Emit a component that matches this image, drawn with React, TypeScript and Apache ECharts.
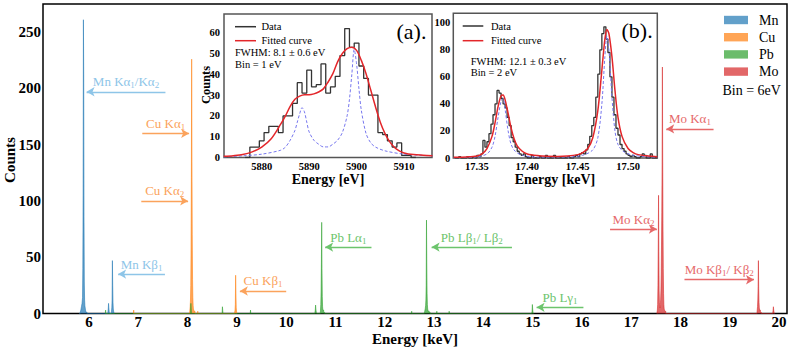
import React, { useEffect, useRef } from 'react';
import * as echarts from 'echarts';

const FONT = "'Liberation Serif', 'Times New Roman', Times, serif";

// ---------- Main spectrum (bin = 6 eV): [bin left edge keV, counts] ----------
const mnSpectrum: number[][] = [
  [5.8, 0], [5.82, 1], [5.834, 3], [5.846, 6], [5.858, 9], [5.868, 14], [5.874, 40], [5.88, 105],
  [5.886, 261], [5.892, 212], [5.898, 86], [5.904, 28], [5.91, 12], [5.916, 7], [5.928, 3], [5.94, 1], [5.96, 0],
  [6.38, 0], [6.39, 4], [6.396, 9], [6.402, 5], [6.408, 2], [6.414, 0],
  [6.45, 0], [6.456, 2], [6.462, 5], [6.468, 12], [6.474, 47], [6.48, 25], [6.486, 10], [6.492, 4], [6.498, 2], [6.51, 0],
];
const cuSpectrum: number[][] = [
  [6.9, 0], [6.906, 3], [6.912, 0],
  [8.04, 0], [8.046, 3], [8.052, 6], [8.058, 12], [8.064, 25], [8.07, 60], [8.076, 121], [8.082, 226],
  [8.088, 135], [8.094, 70], [8.1, 30], [8.106, 14], [8.112, 7], [8.118, 4], [8.13, 2], [8.15, 0],
  [8.2, 0], [8.206, 2], [8.212, 0],
  [8.95, 0], [8.962, 3], [8.968, 8], [8.974, 34], [8.98, 18], [8.986, 5], [8.992, 2], [9.0, 0],
];
const pbSpectrum: number[][] = [
  [6.33, 0], [6.336, 3], [6.342, 0],
  [8.06, 0], [8.066, 9], [8.072, 4], [8.078, 0],
  [8.7, 0], [8.706, 6], [8.712, 3], [8.718, 0],
  [9.27, 0], [9.276, 3], [9.282, 0],
  [10.58, 0], [10.59, 3], [10.596, 7.5], [10.602, 4], [10.61, 1], [10.62, 0],
  [10.69, 0], [10.696, 3], [10.702, 8], [10.708, 20], [10.714, 45], [10.72, 81], [10.726, 40], [10.732, 15],
  [10.738, 6], [10.744, 3], [10.76, 1], [10.78, 0],
  [12.54, 0], [12.546, 2], [12.552, 0],
  [12.8, 0], [12.81, 2], [12.82, 4], [12.828, 7], [12.834, 12], [12.84, 25], [12.846, 83], [12.852, 45],
  [12.858, 18], [12.864, 8], [12.87, 4], [12.88, 2], [12.9, 1], [12.92, 0],
  [13.05, 0], [13.056, 2], [13.062, 0], [13.3, 0], [13.306, 2], [13.312, 0],
  [14.98, 0], [14.988, 2], [14.994, 8], [15.0, 4], [15.006, 1], [15.02, 0],
];
const moSpectrum: number[][] = [
  [17.52, 0], [17.53, 3], [17.536, 8], [17.542, 25], [17.548, 60], [17.554, 105], [17.56, 55], [17.566, 20],
  [17.572, 10], [17.578, 6], [17.584, 5], [17.59, 8], [17.596, 12], [17.602, 20], [17.608, 35], [17.614, 60],
  [17.62, 90], [17.626, 132], [17.632, 219], [17.638, 140], [17.644, 80], [17.65, 40], [17.656, 18],
  [17.662, 8], [17.668, 4], [17.68, 2], [17.7, 0],
  [19.55, 0], [19.556, 3], [19.562, 6], [19.568, 12], [19.574, 24], [19.58, 47], [19.586, 22], [19.592, 10],
  [19.598, 5], [19.604, 3], [19.62, 1], [19.64, 0],
  [19.87, 0], [19.878, 3], [19.884, 6], [19.89, 3], [19.896, 1], [19.91, 0],
];

const elements = ['Mn', 'Cu', 'Pb', 'Mo'];
const elementColors = ['rgba(31,119,180,0.7)', 'rgba(255,127,14,0.7)', 'rgba(44,160,44,0.7)', 'rgba(214,39,40,0.7)'];
const annotationColors: Record<string, string> = { Mn: '#8ec5e8', Cu: '#fba35c', Pb: '#6cc46c', Mo: '#e6696a' };

const mainXTicks = [6, 7, 8, 9, 10, 11, 12, 13, 14, 15, 16, 17, 18, 19, 20];
const mainYTicks = [0, 50, 100, 150, 200, 250];

// annotations: text (with _n subscripts), arrow tail, arrow head (data coords)
const annotations = [
  { el: 'Mn', text: 'Mn Kα_1/Kα_2', tail: [7.55, 197], head: [5.95, 197] },
  { el: 'Mn', text: 'Mn Kβ_1', tail: [7.54, 35], head: [6.59, 35] },
  { el: 'Cu', text: 'Cu Kα_1', tail: [7.08, 160], head: [8.03, 160] },
  { el: 'Cu', text: 'Cu Kα_2', tail: [7.06, 100], head: [8.01, 100] },
  { el: 'Cu', text: 'Cu Kβ_1', tail: [10.0, 20], head: [9.06, 20] },
  { el: 'Pb', text: 'Pb Lα_1', tail: [11.73, 59], head: [10.79, 59] },
  { el: 'Pb', text: 'Pb Lβ_1/ Lβ_2', tail: [14.58, 59], head: [12.95, 59] },
  { el: 'Pb', text: 'Pb Lγ_1', tail: [16.03, 5.5], head: [15.08, 5.5] },
  { el: 'Mo', text: 'Mo Kα_2', tail: [16.57, 75], head: [17.52, 75] },
  { el: 'Mo', text: 'Mo Kα_1', tail: [18.67, 164], head: [17.71, 164] },
  { el: 'Mo', text: 'Mo Kβ_1/ Kβ_2', tail: [18.08, 30], head: [19.49, 30] },
];

// ---------- Inset (a): Mn Kα, bin = 1 eV ----------
const insetAEdges = [5876.5, 5877.5, 5878.5, 5879.5, 5880.5, 5881.5, 5882.5, 5883.5, 5884.5, 5885.5, 5886.5, 5887.5,
  5888.5, 5889.5, 5890.5, 5891.5, 5892.5, 5893.5, 5894.5, 5895.5, 5896.5, 5897.5, 5898.5, 5899.5, 5900.5, 5901.5,
  5902.5, 5903.5, 5904.5, 5905.5, 5906.5, 5907.5, 5908.5, 5909.5, 5910.5, 5911.5, 5912.5];
const insetACounts = [0, 5, 5, 8, 12, 15, 15, 12, 20, 20, 26, 36, 31, 42, 34, 35, 45, 31, 34, 39, 49, 62, 53, 55, 44,
  38, 30, 30, 12, 11, 8, 5, 7, 1, 1, 0, 0];
const fitAEnergy = [5872, 5874, 5876, 5878, 5880, 5882, 5884, 5885, 5886, 5887, 5888, 5889, 5890, 5891, 5892, 5893,
  5894, 5895, 5896, 5897, 5898, 5899, 5900, 5901, 5902, 5903, 5904, 5905, 5906, 5907, 5908, 5909, 5910, 5912, 5914, 5916];
const fitACounts = [0.6, 0.9, 1.4, 2.7, 5, 9, 16, 20, 24.6, 28, 29.5, 30.2, 30.2, 30.6, 31.5, 33, 36.3, 40.3, 46, 50,
  52.3, 53, 51.5, 46.7, 40.3, 32.3, 24.3, 17, 11.5, 7.5, 4.8, 3.2, 2.2, 1.4, 1.1, 0.9];
const compAEnergy = [5872, 5876, 5880, 5884, 5885, 5886, 5887, 5887.5, 5888, 5888.5, 5889, 5889.5, 5890, 5891, 5892,
  5893, 5894, 5895, 5896, 5897, 5898, 5898.5, 5899, 5899.5, 5900, 5900.5, 5901, 5902, 5903, 5904, 5906, 5910, 5916];
const compACounts = [0.3, 0.8, 1.6, 3.5, 5, 8.3, 13, 17, 21, 24, 22, 17, 12.3, 8.3, 6.4, 5.1, 5.1, 6.4, 8.3, 12, 20, 28,
  40, 52, 45, 33, 22.7, 11.5, 7, 5, 3.2, 1.6, 0.8];

// ---------- Inset (b): Mo Kα, bin = 2 eV ----------
const insetBEdges = [17.328, 17.332, 17.334, 17.34, 17.342, 17.346, 17.348, 17.35, 17.352, 17.354, 17.356, 17.358,
  17.36, 17.362, 17.364, 17.366, 17.368, 17.37, 17.372, 17.374, 17.376, 17.378, 17.38, 17.382, 17.384, 17.386,
  17.388, 17.39, 17.392, 17.394, 17.396, 17.398, 17.4, 17.404, 17.406, 17.412, 17.414, 17.418, 17.42, 17.426,
  17.428, 17.44, 17.442, 17.446, 17.448, 17.45, 17.452, 17.454, 17.456, 17.458, 17.46, 17.462, 17.464, 17.466,
  17.468, 17.47, 17.472, 17.474, 17.476, 17.478, 17.48, 17.482, 17.484, 17.486, 17.488, 17.49, 17.492, 17.494,
  17.496, 17.498, 17.5, 17.502, 17.504, 17.506, 17.508, 17.512, 17.514, 17.516, 17.518, 17.522, 17.524, 17.529];
const insetBCounts = [0, 1, 0, 1, 0, 1, 0, 2, 1, 3, 13, 8, 12, 18, 25, 32, 40, 50, 48, 44, 40, 37, 30, 24, 15, 12, 8,
  5, 3, 2, 3, 1, 0, 2, 0, 1, 0, 2, 0, 2, 0, 1, 0, 1, 2, 1, 3, 4, 3, 6, 10, 16, 24, 30, 45, 62, 80, 92, 97, 88, 78, 60,
  45, 32, 22, 17, 10, 7, 5, 3, 2, 1, 2, 1, 0, 1, 3, 2, 0, 3, 0, 0];
const fitBEnergy = [17.327, 17.34, 17.35, 17.355, 17.36, 17.365, 17.368, 17.371, 17.374, 17.376, 17.378, 17.381,
  17.384, 17.387, 17.39, 17.395, 17.4, 17.41, 17.42, 17.43, 17.44, 17.45, 17.455, 17.46, 17.465, 17.47, 17.474,
  17.477, 17.479, 17.481, 17.484, 17.487, 17.49, 17.494, 17.5, 17.505, 17.51, 17.52, 17.529];
const fitBCounts = [0.5, 0.8, 1.5, 3, 7, 16, 26, 38, 46, 46.5, 43, 33, 22, 14, 9, 5, 3, 1.8, 1.3, 1.2, 1.5, 2.5, 4, 7,
  15, 35, 65, 88, 95, 92, 75, 50, 30, 16, 7, 4, 2.5, 1.5, 1];
const compBEnergy = [17.327, 17.35, 17.36, 17.365, 17.368, 17.371, 17.374, 17.376, 17.378, 17.381, 17.384, 17.388,
  17.395, 17.41, 17.44, 17.455, 17.465, 17.47, 17.474, 17.477, 17.479, 17.481, 17.484, 17.487, 17.49, 17.495,
  17.505, 17.529];
const compBCounts = [0.2, 0.8, 3, 8, 16, 30, 42, 44, 36, 20, 10, 5, 2, 0.7, 0.7, 2, 6, 15, 40, 75, 90, 80, 45, 20, 10,
  5, 2, 0.5];

const insetAXTicks = [5880, 5890, 5900, 5910];
const insetAYTicks = [0, 10, 20, 30, 40, 50, 60];
const insetBXTicks = [17.35, 17.4, 17.45, 17.5];
const insetBYTicks = [0, 20, 40, 60, 80, 100];

function richText(t: string) {
  const parts = t.split(/_(\d)/);
  let out = '';
  parts.forEach((p, i) => {
    if (!p) return;
    out += i % 2 === 1 ? `{s|${p}}` : `{a|${p}}`;
  });
  return out;
}

function pairs(x: number[], y: number[]) {
  return x.map((v, i) => [v, y[i]]);
}

export default function App() {
  const ref = useRef<HTMLDivElement>(null);
  useEffect(() => {
    const chart = echarts.init(ref.current!, null, { renderer: 'svg' });
    const spectra = [mnSpectrum, cuSpectrum, pbSpectrum, moSpectrum];
    const tickLabel = (size: number, margin: number) => ({
      fontFamily: FONT, fontWeight: 'bold', fontSize: size, color: '#000', margin,
    });
    const markData = annotations.map((a) => {
      const color = annotationColors[a.el];
      const leftHead = a.head[0] < a.tail[0];
      const left = leftHead ? a.head : a.tail;
      const right = leftHead ? a.tail : a.head;
      return [
        {
          coord: left,
          symbol: leftHead ? 'arrow' : 'none',
          lineStyle: { color, width: 1.3, type: 'solid' },
          label: {
            show: true, position: 'insideMiddleTop', distance: 2,
            formatter: richText(a.text),
            rich: {
              a: { fontFamily: FONT, fontSize: 13, color, lineHeight: 16 },
              s: { fontFamily: FONT, fontSize: 9, color, lineHeight: 9, verticalAlign: 'bottom' },
            },
          },
        },
        { coord: right, symbol: leftHead ? 'none' : 'arrow' },
      ];
    });

    const series: any[] = spectra.map((d, i) => ({
      name: elements[i], type: 'line', step: 'end', data: d, xAxisIndex: 0, yAxisIndex: 0,
      showSymbol: false, symbol: 'none', silent: true,
      lineStyle: { color: elementColors[i], width: 0.8 },
      areaStyle: { color: elementColors[i], opacity: 1 },
    }));
    series.push({
      type: 'line', data: [], xAxisIndex: 0, yAxisIndex: 0, silent: true,
      markLine: { silent: true, symbolSize: [7, 8], animation: false, data: markData },
    });
    series.push(
      { type: 'line', step: 'end', data: pairs(insetAEdges, insetACounts), xAxisIndex: 1, yAxisIndex: 1, symbol: 'none', lineStyle: { color: '#333', width: 1.3 }, z: 3 },
      { type: 'line', data: pairs(compAEnergy, compACounts), xAxisIndex: 1, yAxisIndex: 1, symbol: 'none', smooth: 0.3, lineStyle: { color: '#7777ee', width: 1, type: [3, 2] }, z: 4 },
      { type: 'line', data: pairs(fitAEnergy, fitACounts), xAxisIndex: 1, yAxisIndex: 1, symbol: 'none', smooth: 0.3, lineStyle: { color: '#e3262a', width: 1.5 }, z: 5 },
      { type: 'line', step: 'end', data: pairs(insetBEdges, insetBCounts), xAxisIndex: 2, yAxisIndex: 2, symbol: 'none', lineStyle: { color: '#333', width: 1.3 }, z: 3 },
      { type: 'line', data: pairs(compBEnergy, compBCounts), xAxisIndex: 2, yAxisIndex: 2, symbol: 'none', smooth: 0.3, lineStyle: { color: '#7777ee', width: 1, type: [3, 2] }, z: 4 },
      { type: 'line', data: pairs(fitBEnergy, fitBCounts), xAxisIndex: 2, yAxisIndex: 2, symbol: 'none', smooth: 0.3, lineStyle: { color: '#e3262a', width: 1.5 }, z: 5 },
    );

    const graphic: any[] = [];
    const txt = (text: string, x: number, y: number, size: number, opts: any = {}) => ({
      type: 'text', x, y, rotation: opts.rotation || 0, z: 100,
      style: {
        text, fontFamily: FONT, fontSize: size, fontWeight: opts.bold ? 'bold' : 'normal', fill: '#000',
        align: opts.align || 'center', verticalAlign: 'middle',
      },
    });
    graphic.push(txt('Counts', 10, 160, 15, { bold: true, rotation: Math.PI / 2 }));
    graphic.push(txt('Energy [keV]', 415, 338.5, 15, { bold: true }));
    graphic.push(txt('Counts', 206, 85, 12.5, { bold: true, rotation: Math.PI / 2 }));
    graphic.push(txt('Energy [eV]', 328, 179.5, 14, { bold: true }));
    graphic.push(txt('Energy [keV]', 555, 179.5, 14, { bold: true }));
    // main legend
    elements.forEach((e, i) => {
      const y = 20 + i * 17.2;
      graphic.push({ type: 'rect', shape: { x: 724, y: y - 4.2, width: 24, height: 8.4 }, style: { fill: elementColors[i] }, z: 100 });
      graphic.push(txt(e, 759, y, 14, { align: 'left' }));
    });
    graphic.push(txt('Bin = 6eV', 722.5, 90.7, 14, { align: 'left' }));
    // inset (a) legend and notes
    graphic.push({ type: 'line', shape: { x1: 235, y1: 26.7, x2: 256, y2: 26.7 }, style: { stroke: '#333', lineWidth: 1.5 }, z: 100 });
    graphic.push({ type: 'line', shape: { x1: 235, y1: 40.7, x2: 256, y2: 40.7 }, style: { stroke: '#e3262a', lineWidth: 1.5 }, z: 100 });
    graphic.push(txt('Data', 261.5, 26.7, 10.5, { align: 'left' }));
    graphic.push(txt('Fitted curve', 261.5, 40.7, 10.5, { align: 'left' }));
    graphic.push(txt('FWHM: 8.1 ± 0.6 eV', 235, 52.7, 10.5, { align: 'left' }));
    graphic.push(txt('Bin = 1 eV', 235, 64.3, 10.5, { align: 'left' }));
    graphic.push(txt('(a).', 396.5, 31.7, 22, { align: 'left' }));
    // inset (b) legend and notes
    graphic.push({ type: 'line', shape: { x1: 462.7, y1: 26, x2: 483.3, y2: 26 }, style: { stroke: '#333', lineWidth: 1.5 }, z: 100 });
    graphic.push({ type: 'line', shape: { x1: 462.7, y1: 40.7, x2: 483.3, y2: 40.7 }, style: { stroke: '#e3262a', lineWidth: 1.5 }, z: 100 });
    graphic.push(txt('Data', 491, 26, 10.5, { align: 'left' }));
    graphic.push(txt('Fitted curve', 491, 40.7, 10.5, { align: 'left' }));
    graphic.push(txt('FWHM: 12.1 ± 0.3 eV', 470.7, 61.7, 10.5, { align: 'left' }));
    graphic.push(txt('Bin = 2 eV', 470.7, 72.3, 10.5, { align: 'left' }));
    graphic.push(txt('(b).', 621.5, 30, 22, { align: 'left' }));

    const noLine = { show: false };
    chart.setOption({
      animation: false,
      backgroundColor: '#fff',
      grid: [
        { left: 43, top: 4, width: 744, height: 309.5, show: true, borderColor: '#000', borderWidth: 1.5, backgroundColor: 'transparent' },
        { left: 224, top: 14, width: 208, height: 143.5, show: true, borderColor: '#555', borderWidth: 1.5, backgroundColor: '#fff' },
        { left: 453.3, top: 13.3, width: 204, height: 144.7, show: true, borderColor: '#555', borderWidth: 1.5, backgroundColor: '#fff' },
      ],
      xAxis: [
        { type: 'value', gridIndex: 0, min: 5.066, max: 20.16, axisLine: noLine, axisTick: noLine, splitLine: noLine,
          axisLabel: { ...tickLabel(15, 1), customValues: mainXTicks } },
        { type: 'value', gridIndex: 1, min: 5872.05, max: 5915.9, axisLine: noLine, axisTick: noLine, splitLine: noLine,
          axisLabel: { ...tickLabel(10.5, 3), customValues: insetAXTicks, formatter: (v: number) => String(v) } },
        { type: 'value', gridIndex: 2, min: 17.3266, max: 17.529, axisLine: noLine, axisTick: noLine, splitLine: noLine,
          axisLabel: { ...tickLabel(10.5, 2.5), customValues: insetBXTicks, formatter: (v: number) => v.toFixed(2) } },
      ],
      yAxis: [
        { type: 'value', gridIndex: 0, min: 0, max: 275, axisLine: noLine, axisTick: noLine, splitLine: noLine,
          axisLabel: { ...tickLabel(15, 2), customValues: mainYTicks } },
        { type: 'value', gridIndex: 1, min: 0, max: 69, axisLine: noLine, axisTick: noLine, splitLine: noLine,
          axisLabel: { ...tickLabel(10.5, 4), customValues: insetAYTicks } },
        { type: 'value', gridIndex: 2, min: 0, max: 107, axisLine: noLine, axisTick: noLine, splitLine: noLine,
          axisLabel: { ...tickLabel(10.5, 3), customValues: insetBYTicks } },
      ],
      series,
      graphic,
    });
    return () => chart.dispose();
  }, []);
  return <div ref={ref} style={{ position: 'fixed', left: 0, top: 0, width: 793, height: 349 }} />;
}
